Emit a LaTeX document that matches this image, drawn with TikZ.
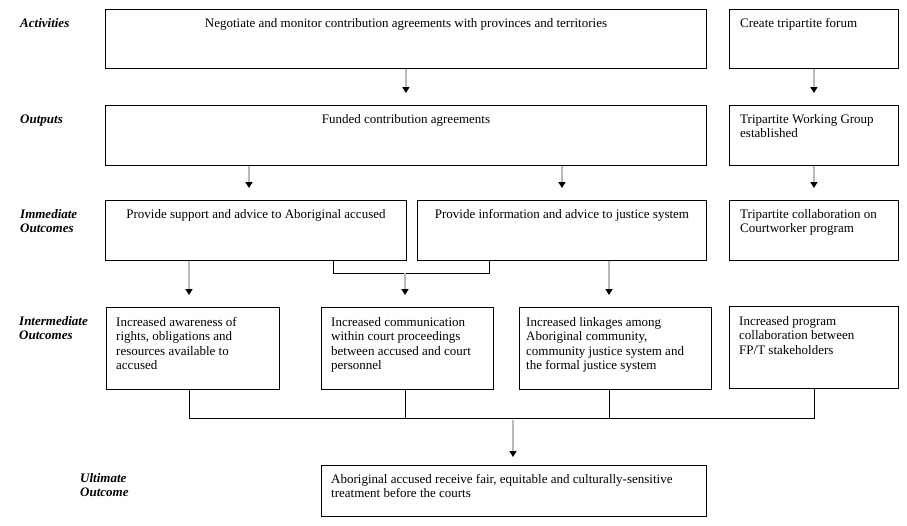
\documentclass[tikz,border=0pt]{standalone}
\usepackage{fontspec}
\setmainfont{Liberation Serif}
\usetikzlibrary{arrows.meta,calc}
\newcommand\mlines[1]{\begin{tabular}[t]{@{}l@{}}#1\end{tabular}}
\definecolor{shaft}{RGB}{185,185,185}
\begin{document}
\begin{tikzpicture}[x=1pt,y=-1pt,
  box/.style={draw=black, line width=0.9pt, inner sep=0pt, anchor=north west},
  txt/.style={inner sep=0pt, anchor=base west, font=\fontsize{13}{14.5}\selectfont},
  ctxt/.style={inner sep=0pt, anchor=base, font=\fontsize{13}{14.5}\selectfont},
  lbl/.style={inner sep=0pt, anchor=base west, font=\fontsize{13}{14.8}\selectfont\bfseries\itshape},
  arr/.style={draw=shaft, line width=1.6pt, -{Triangle[length=6pt,width=7pt,color=black,fill=black]}},
  con/.style={draw=black, line width=0.9pt}
]
\useasboundingbox (0,0) rectangle (907,525);

% labels
\node[lbl] (lAct) at (20,27) {Activities};
\node[lbl] (lOut) at (20,123) {Outputs};
\node[lbl] (lImm) at (20,218) {\mlines{Immediate\\Outcomes}};
\node[lbl] (lInt) at (19,325) {\mlines{Intermediate\\Outcomes}};
\node[lbl] (lUlt) at (80,482) {\mlines{Ultimate\\Outcome}};

% boxes
\node[box, minimum width=601, minimum height=59] (act) at (105,9) {};
\node[box, minimum width=169, minimum height=59] (ctf) at (729,9) {};
\node[box, minimum width=601, minimum height=60] (out) at (105,105) {};
\node[box, minimum width=169, minimum height=60] (twg) at (729,105) {};
\node[box, minimum width=301, minimum height=60] (im1) at (105,200) {};
\node[box, minimum width=289, minimum height=60] (im2) at (417,200) {};
\node[box, minimum width=169, minimum height=60] (im3) at (729,200) {};
\node[box, minimum width=173, minimum height=82] (in1) at (106,307) {};
\node[box, minimum width=172, minimum height=82] (in2) at (321,307) {};
\node[box, minimum width=192, minimum height=82] (in3) at (519,307) {};
\node[box, minimum width=169, minimum height=82] (in4) at (729,306) {};
\node[box, minimum width=385, minimum height=51] (ult) at (321,465) {};

% texts
\node[ctxt] (actT) at ($(act.north)+(0,18)$) {Negotiate and monitor contribution agreements with provinces and territories};
\node[txt] (ctfT) at ($(ctf.north west)+(11,18)$) {Create tripartite forum};
\node[ctxt] (outT) at ($(out.north)+(0,18)$) {Funded contribution agreements};
\node[txt] (twgT) at ($(twg.north west)+(11,18)$) {\mlines{Tripartite Working Group\\established}};
\node[ctxt] (im1T) at ($(im1.north)+(0,18)$) {Provide support and advice to Aboriginal accused};
\node[ctxt] (im2T) at ($(im2.north)+(0,18)$) {Provide information and advice to justice system};
\node[txt] (im3T) at ($(im3.north west)+(11,18)$) {\mlines{Tripartite collaboration on\\Courtworker program}};
\node[txt] (in1T) at ($(in1.north west)+(10,19)$) {\mlines{Increased awareness of\\rights, obligations and\\resources available to\\accused}};
\node[txt] (in2T) at ($(in2.north west)+(10,19)$) {\mlines{Increased communication\\within court proceedings\\between accused and court\\personnel}};
\node[txt] (in3T) at ($(in3.north west)+(7,19)$) {\mlines{Increased linkages among\\Aboriginal community,\\community justice system and\\the formal justice system}};
\node[txt] (in4T) at ($(in4.north west)+(10,19)$) {\mlines{Increased program\\collaboration between\\FP/T stakeholders}};
\node[txt] (ultT) at ($(ult.north west)+(10,18)$) {\mlines{Aboriginal accused receive fair, equitable and culturally-sensitive\\treatment before the courts}};

% helper coordinates
\coordinate (xa) at (249,0);
\coordinate (xb) at (189,0);
\coordinate (xc) at (405,0);
\coordinate (xd) at (609,0);
\coordinate (xl) at (333,0);
\coordinate (xr) at (489,0);
\coordinate (xm) at (513,0);
\coordinate (ybr) at (0,273);
\coordinate (ybot) at (0,418);

% arrows level 1-2
\draw[arr] (act.south) -- ($(out.north)+(0,-12)$);
\draw[arr] (ctf.south) -- ($(twg.north)+(0,-12)$);
% level 2-3
\draw[arr] (xa |- out.south) -- ($(xa |- im1.north)+(0,-12)$);
\draw[arr] (im2.north |- out.south) -- ($(im2.north)+(0,-12)$);
\draw[arr] (twg.south) -- ($(im3.north)+(0,-12)$);
% level 3-4
\draw[con] (xl |- im1.south) -- (xl |- ybr) -- (xr |- ybr) -- (xr |- im2.south);
\draw[arr] (xb |- im1.south) -- ($(xb |- in1.north)+(0,-12)$);
\draw[arr] (xc |- ybr) -- ($(xc |- in2.north)+(0,-12)$);
\draw[arr] (xd |- im2.south) -- ($(xd |- in3.north)+(0,-12)$);
% level 4-5
\draw[con] (xb |- in1.south) -- (xb |- ybot) -- (in4.south |- ybot) -- (in4.south);
\draw[con] (xc |- in2.south) -- (xc |- ybot);
\draw[con] (xd |- in3.south) -- (xd |- ybot);
\draw[arr] ($(xm |- ybot)+(0,2)$) -- ($(xm |- ult.north)+(0,-8)$);
\end{tikzpicture}
\end{document}
